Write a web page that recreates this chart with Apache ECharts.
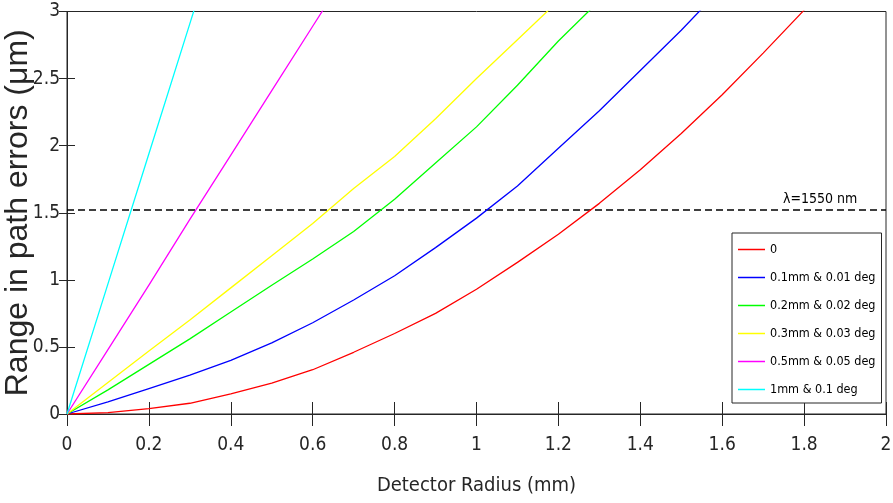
<!DOCTYPE html>
<html>
<head>
<meta charset="utf-8">
<script src="https://cdn.jsdelivr.net/npm/echarts@6/dist/echarts.min.js"></script>
<style>
  html, body { margin: 0; padding: 0; background: #ffffff; }
  #chart { width: 893px; height: 503px; }
</style>
</head>
<body>
<div id="chart"></div>
<script>
// Detector radius (mm), sampled every 0.1 mm
const radius = [0, 0.1, 0.2, 0.3, 0.4, 0.5, 0.6, 0.7, 0.8, 0.9, 1.0,
                1.1, 1.2, 1.3, 1.4, 1.5, 1.6, 1.7, 1.8, 1.9, 2.0];

// Range in path errors (µm) for each misalignment case
const err0      = [0, 0.01, 0.04, 0.08, 0.15, 0.23, 0.33, 0.46, 0.60, 0.75, 0.93,
                   1.13, 1.34, 1.57, 1.82, 2.09, 2.38, 2.69, 3.01, 3.36];
const err01mm   = [0, 0.09, 0.19, 0.29, 0.40, 0.53, 0.68, 0.85, 1.03, 1.24, 1.46,
                   1.70, 1.98, 2.26, 2.56, 2.86, 3.18];
const err02mm   = [0, 0.18, 0.37, 0.56, 0.76, 0.96, 1.155, 1.36, 1.60, 1.87, 2.14,
                   2.45, 2.78, 3.08];
const err03mm   = [0, 0.235, 0.47, 0.70, 0.94, 1.18, 1.42, 1.68, 1.92, 2.20, 2.50,
                   2.79, 3.08];
const err05mm   = [0, 0.48, 0.96, 1.45, 1.93, 2.41, 2.89, 3.37];
const err1mm    = [0, 0.97, 1.94, 2.91, 3.88];

const seriesNames  = ['0', '0.1mm & 0.01 deg', '0.2mm & 0.02 deg',
                      '0.3mm & 0.03 deg', '0.5mm & 0.05 deg', '1mm & 0.1 deg'];
const seriesValues = [err0, err01mm, err02mm, err03mm, err05mm, err1mm];
const seriesColors = ['#ff0000', '#0000ff', '#00ff00', '#ffff00', '#ff00ff', '#00ffff'];

// Wavelength threshold line
const wavelengthLevel = 1.52;
const wavelengthLabel = 'λ=1550 nm';
const xExtent = [0, 2];

const narrow = '"DejaVu Sans Condensed", "Liberation Sans Narrow", "Liberation Sans", sans-serif';
const regular = '"Liberation Sans", Arial, sans-serif';
const ink = '#262626';

const chart = echarts.init(document.getElementById('chart'), null, { renderer: 'canvas' });

const curves = seriesNames.map((name, i) => ({
  name: name,
  type: 'line',
  symbol: 'none',
  smooth: false,
  clip: true,
  lineStyle: { color: seriesColors[i], width: 1.3 },
  itemStyle: { color: seriesColors[i] },
  data: seriesValues[i].map((v, k) => [radius[k], v]),
  z: 3
}));

const thresholdLine = {
  name: 'threshold',
  type: 'line',
  symbol: 'none',
  silent: true,
  lineStyle: { color: '#000000', width: 1.4, type: [7, 4] },
  data: xExtent.map(x => [x, wavelengthLevel]),
  z: 2
};

const tickCommon = { show: true, inside: true, lineStyle: { color: ink, width: 1 } };

chart.setOption({
  animation: false,
  backgroundColor: '#ffffff',
  grid: {
    left: 67, right: 7, top: 11.5, bottom: 89,
    containLabel: false, outerBoundsMode: 'none',
    show: true, borderColor: ink, borderWidth: 1, backgroundColor: 'transparent'
  },
  legend: {
    orient: 'vertical',
    left: 732, top: 233,
    data: seriesNames,
    icon: 'rect',
    backgroundColor: '#ffffff',
    borderColor: ink, borderWidth: 1,
    padding: [10, 6, 7, 6],
    itemWidth: 27, itemHeight: 1.5, itemGap: 15,
    textStyle: { fontFamily: narrow, fontSize: 12.5, color: '#000000' }
  },
  xAxis: [{
    type: 'value', min: 0, max: 2, interval: 0.2,
    name: 'Detector Radius (mm)', nameLocation: 'middle', nameGap: 62,
    nameMoveOverlap: false,
    nameTextStyle: { fontFamily: narrow, fontSize: 20, color: ink },
    axisLine: { show: true, lineStyle: { color: ink } },
    axisTick: Object.assign({ length: 12 }, tickCommon),
    axisLabel: { fontFamily: narrow, fontSize: 19, color: ink, margin: 22 },
    splitLine: { show: false }
  }, {
    type: 'value', min: 0, max: 2, interval: 0.2, position: 'top',
    axisLine: { show: true, lineStyle: { color: ink } },
    axisTick: Object.assign({ length: 12 }, tickCommon),
    axisLabel: { show: false }, splitLine: { show: false }
  }],
  yAxis: [{
    type: 'value', min: 0, max: 3, interval: 0.5,
    name: 'Range in path errors (μm)', nameLocation: 'middle', nameGap: 33,
    nameMoveOverlap: false,
    nameTextStyle: { fontFamily: regular, fontSize: 32, color: ink },
    axisLine: { show: true, lineStyle: { color: ink } },
    axisTick: Object.assign({ length: 8 }, tickCommon),
    axisLabel: { fontFamily: narrow, fontSize: 19, color: ink, margin: 7 },
    splitLine: { show: false }
  }, {
    type: 'value', min: 0, max: 3, interval: 0.5, position: 'right',
    axisLine: { show: true, lineStyle: { color: ink } },
    axisTick: Object.assign({ length: 8 }, tickCommon),
    axisLabel: { show: false }, splitLine: { show: false }
  }],
  series: curves.concat([thresholdLine])
});

// Wavelength annotation anchored just above the threshold line near the right edge
const anchor = chart.convertToPixel({ xAxisIndex: 0, yAxisIndex: 0 }, [1.93, wavelengthLevel]);
chart.setOption({
  graphic: [{
    type: 'text',
    x: anchor[0], y: anchor[1] - 4,
    style: {
      text: wavelengthLabel,
      fontFamily: narrow, fontSize: 14, fill: '#000000',
      align: 'right', verticalAlign: 'bottom'
    },
    z: 10
  }]
});
</script>
</body>
</html>
